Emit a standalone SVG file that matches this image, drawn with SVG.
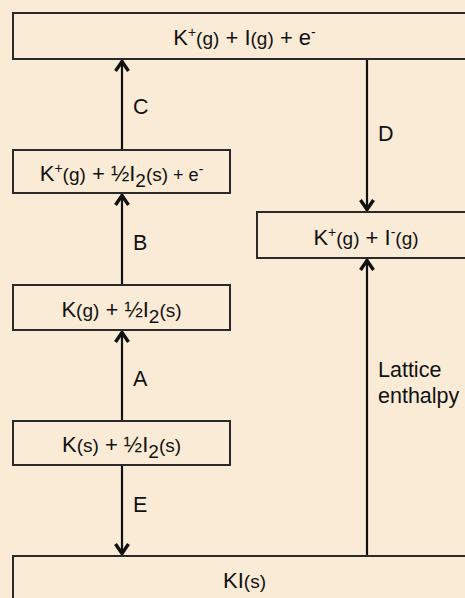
<svg xmlns="http://www.w3.org/2000/svg" width="465" height="598" viewBox="0 0 465 598">
<style>
.box{fill:#FAEBD7;stroke:#2a2a2a;stroke-width:2}
.t{font-family:"Liberation Sans",Arial,sans-serif;font-size:22px;fill:#111;text-anchor:middle}
.lbl{font-family:"Liberation Sans",Arial,sans-serif;font-size:21.5px;fill:#111}
.p{font-size:19px}
.sup{font-size:14px}
.sm{font-size:18px}
.ln{stroke:#111;stroke-width:2.2;fill:none;marker-end:url(#chev)}
</style>
<defs>
<marker id="chev" markerUnits="userSpaceOnUse" markerWidth="20" markerHeight="20" viewBox="-12 -10 20 20" refX="0" refY="0" orient="auto" overflow="visible">
<path d="M-11,-6.5 L-1.5,0 L-11,6.5" fill="none" stroke="#111" stroke-width="3.4" stroke-linejoin="miter"/>
</marker>
</defs>
<rect width="465" height="598" fill="#FAEBD7"/>
<g id="connectors">
<line class="ln" x1="122" y1="150" x2="122" y2="60"/>
<line class="ln" x1="122" y1="285" x2="122" y2="194"/>
<line class="ln" x1="122" y1="421" x2="122" y2="331"/>
<line class="ln" x1="122" y1="465" x2="122" y2="555"/>
<line class="ln" x1="367" y1="59" x2="367" y2="211"/>
<line class="ln" x1="367" y1="556" x2="367" y2="259"/>
<text class="lbl" x="133" y="114">C</text>
<text class="lbl" x="133" y="250">B</text>
<text class="lbl" x="133" y="386">A</text>
<text class="lbl" x="133" y="512">E</text>
<text class="lbl" x="378" y="141">D</text>
<text class="lbl" x="378" y="377">Lattice</text>
<text class="lbl" x="378" y="403">enthalpy</text>
</g>
<g id="top">
<rect class="box" x="13" y="13" width="463" height="46"/>
<text class="t" x="244.5" y="45">K<tspan class="sup" dy="-8">+</tspan><tspan class="p" dy="8">(g)</tspan> + I<tspan class="p">(g)</tspan> + e<tspan class="sup" dy="-8">-</tspan></text>
</g>
<g id="kplus_halfI2">
<rect class="box" x="13" y="150" width="217" height="43"/>
<text class="t" x="121.5" y="181">K<tspan class="sup" dy="-8">+</tspan><tspan class="p" dy="8">(g)</tspan> + ½I<tspan class="p" dy="6">2</tspan><tspan class="p" dy="-6">(s)</tspan><tspan class="sm"> + e</tspan><tspan class="sup" dy="-7">-</tspan></text>
</g>
<g id="kplus_iminus">
<rect class="box" x="257" y="212" width="219" height="46"/>
<text class="t" x="366" y="245">K<tspan class="sup" dy="-8">+</tspan><tspan class="p" dy="8">(g)</tspan> + I<tspan class="sup" dy="-8">-</tspan><tspan class="p" dy="8">(g)</tspan></text>
</g>
<g id="kg_halfI2">
<rect class="box" x="13" y="285" width="217" height="45"/>
<text class="t" x="121.5" y="317">K<tspan class="p">(g)</tspan> + ½I<tspan class="p" dy="6">2</tspan><tspan class="p" dy="-6">(s)</tspan></text>
</g>
<g id="ks_halfI2">
<rect class="box" x="13" y="421" width="217" height="44"/>
<text class="t" x="121.5" y="452">K<tspan class="p">(s)</tspan> + ½I<tspan class="p" dy="6">2</tspan><tspan class="p" dy="-6">(s)</tspan></text>
</g>
<g id="KI">
<rect class="box" x="13" y="556" width="463" height="60"/>
<text class="t" x="244.5" y="588">KI<tspan class="p">(s)</tspan></text>
</g>
</svg>
